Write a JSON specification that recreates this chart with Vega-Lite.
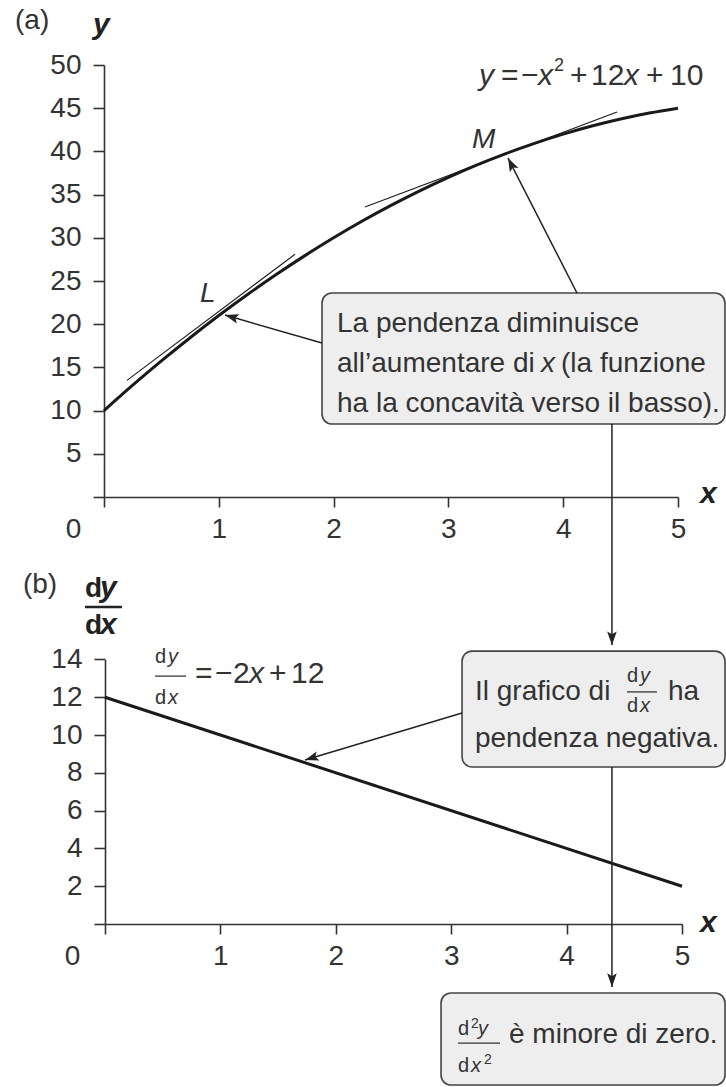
{
  "$schema": "https://vega.github.io/schema/vega-lite/v6.json",
  "width": 726,
  "height": 1087,
  "autosize": {"type": "none"},
  "padding": 0,
  "background": "white",
  "config": {
    "view": {"stroke": null},
    "axis": {
      "grid": false,
      "domainColor": "#333",
      "domainWidth": 1.6,
      "tickColor": "#333",
      "tickWidth": 1.6,
      "labelFont": "Liberation Sans",
      "labelFontSize": 28,
      "labelColor": "#333",
      "labelFlush": false,
      "labelOverlap": false,
      "labelBound": false,
      "format": "d"
    },
    "text": {"font": "Liberation Sans", "color": "#333", "align": "left", "baseline": "alphabetic", "fontSize": 28}
  },
  "datasets": {
    "curve": [
      {"x": 0, "y": 10}, {"x": 0.25, "y": 12.9375}, {"x": 0.5, "y": 15.75}, {"x": 0.75, "y": 18.4375},
      {"x": 1, "y": 21}, {"x": 1.25, "y": 23.4375}, {"x": 1.5, "y": 25.75}, {"x": 1.75, "y": 27.9375},
      {"x": 2, "y": 30}, {"x": 2.25, "y": 31.9375}, {"x": 2.5, "y": 33.75}, {"x": 2.75, "y": 35.4375},
      {"x": 3, "y": 37}, {"x": 3.25, "y": 38.4375}, {"x": 3.5, "y": 39.75}, {"x": 3.75, "y": 40.9375},
      {"x": 4, "y": 42}, {"x": 4.25, "y": 42.9375}, {"x": 4.5, "y": 43.75}, {"x": 4.75, "y": 44.4375},
      {"x": 5, "y": 45}
    ],
    "tangents": [
      {"point": "L", "x0": 0.2, "y0": 13.5, "x1": 1.664, "y1": 28.1},
      {"point": "M", "x0": 2.273, "y0": 33.56, "x1": 4.469, "y1": 44.56}
    ],
    "boxesA": [{"x0": 1.899, "x1": 5.409, "y0": 23.61, "y1": 8.45}],
    "arrowsA": [
      {"name": "L", "x0": 1.899, "y0": 17.82, "x1": 1.054, "y1": 21.06},
      {"name": "M", "x0": 4.12, "y0": 23.61, "x1": 3.519, "y1": 39.24}
    ],
    "derivative": [{"x": 0, "dydx": 12}, {"x": 5, "dydx": 2}],
    "boxesB": [
      {"x0": 3.094, "x1": 5.373, "y0": 14.44, "y1": 8.31},
      {"x0": 2.912, "x1": 5.373, "y0": -3.65, "y1": -8.52}
    ],
    "arrowsB": [
      {"name": "slope", "x0": 3.094, "y0": 11.16, "x1": 1.733, "y1": 8.68},
      {"name": "down1", "x0": 4.393, "y0": 26.46, "x1": 4.393, "y1": 14.76},
      {"name": "down2", "x0": 4.393, "y0": 8.31, "x1": 4.393, "y1": -3.33}
    ],
    "fractionBars": [
      {"x0": 0.433, "x1": 0.702, "y": 13.12},
      {"x0": 4.523, "x1": 4.783, "y": 12.28},
      {"x0": 3.059, "x1": 3.423, "y": -6.3}
    ],
    "titleBar": [{"x0": -0.173, "x1": 0.147, "y": 16.77}]
  },
  "layer": [
    {
      "layer": [
        {
          "data": {"name": "curve"},
          "mark": {"type": "line", "color": "#1a1a1a", "strokeWidth": 3, "interpolate": "monotone"},
          "encoding": {
            "x": {
              "field": "x", "type": "quantitative",
              "scale": {"domain": [0, 5], "range": [104, 678], "nice": false, "zero": false},
              "axis": {
                "orient": "bottom", "offset": -590, "values": [0, 1, 2, 3, 4, 5], "title": null,
                "tickSize": 10, "labelPadding": 8, "format": "d",
                "labelOffset": {"condition": {"test": "datum.value === 0", "value": -31}, "value": 0}
              }
            },
            "y": {
              "field": "y", "type": "quantitative",
              "scale": {"domain": [0, 50], "range": [497, 65], "nice": false, "zero": false},
              "axis": {
                "orient": "left", "offset": -104, "values": [0, 5, 10, 15, 20, 25, 30, 35, 40, 45, 50], "title": null,
                "tickSize": 11, "labelPadding": 12, "format": "d",
                "labelExpr": "datum.value === 0 ? '' : datum.label"
              }
            }
          }
        },
        {
          "data": {"name": "tangents"},
          "mark": {"type": "rule", "color": "#1a1a1a", "strokeWidth": 1.1},
          "encoding": {
            "x": {"field": "x0", "type": "quantitative"},
            "y": {"field": "y0", "type": "quantitative"},
            "x2": {"field": "x1"},
            "y2": {"field": "y1"}
          }
        },
        {
          "data": {"name": "boxesA"},
          "mark": {"type": "rect", "cornerRadius": 10, "fill": "#eeeeee", "stroke": "#444", "strokeWidth": 1.6},
          "encoding": {
            "x": {"field": "x0", "type": "quantitative"},
            "x2": {"field": "x1"},
            "y": {"field": "y0", "type": "quantitative"},
            "y2": {"field": "y1"}
          }
        },
        {
          "data": {"name": "arrowsA"},
          "mark": {"type": "rule", "color": "#222", "strokeWidth": 1.5},
          "encoding": {
            "x": {"field": "x0", "type": "quantitative"},
            "y": {"field": "y0", "type": "quantitative"},
            "x2": {"field": "x1"},
            "y2": {"field": "y1"}
          }
        },
        {
          "data": {"name": "arrowsA"},
          "transform": [{"filter": "datum.name === 'L'"}],
          "mark": {"type": "point", "shape": "M0,0 L0.6,1.7 L0,1.35 L-0.6,1.7 Z", "filled": true, "size": 256, "angle": 286, "color": "#222", "opacity": 1},
          "encoding": {
            "x": {"field": "x1", "type": "quantitative"},
            "y": {"field": "y1", "type": "quantitative"}
          }
        },
        {
          "data": {"name": "arrowsA"},
          "transform": [{"filter": "datum.name === 'M'"}],
          "mark": {"type": "point", "shape": "M0,0 L0.6,1.7 L0,1.35 L-0.6,1.7 Z", "filled": true, "size": 256, "angle": 333, "color": "#222", "opacity": 1},
          "encoding": {
            "x": {"field": "x1", "type": "quantitative"},
            "y": {"field": "y1", "type": "quantitative"}
          }
        },
        {
          "data": {"values": [
            {"t": "(a)", "x": -0.775, "y": 54.17},
            {"t": "La pendenza diminuisce", "x": 2.03, "y": 19.1},
            {"t": "all’aumentare di", "x": 2.03, "y": 14.47},
            {"t": "(la funzione", "x": 3.981, "y": 14.47},
            {"t": "ha la concavità verso il basso).", "x": 2.03, "y": 9.84}
          ]},
          "mark": {"type": "text"},
          "encoding": {
            "x": {"field": "x", "type": "quantitative"},
            "y": {"field": "y", "type": "quantitative"},
            "text": {"field": "t"}
          }
        },
        {
          "data": {"values": [
            {"t": "x", "x": 3.807, "y": 14.47},
            {"t": "L", "x": 0.836, "y": 22.57},
            {"t": "M", "x": 3.206, "y": 40.39}
          ]},
          "mark": {"type": "text", "fontStyle": "italic"},
          "encoding": {
            "x": {"field": "x", "type": "quantitative"},
            "y": {"field": "y", "type": "quantitative"},
            "text": {"field": "t"}
          }
        },
        {
          "data": {"values": [
            {"t": "=", "x": 3.458, "y": 47.69},
            {"t": "−", "x": 3.632, "y": 47.69},
            {"t": "+", "x": 4.059, "y": 47.69},
            {"t": "12", "x": 4.242, "y": 47.69},
            {"t": "+", "x": 4.721, "y": 47.69},
            {"t": "10", "x": 4.93, "y": 47.69}
          ]},
          "mark": {"type": "text", "fontSize": 30},
          "encoding": {
            "x": {"field": "x", "type": "quantitative"},
            "y": {"field": "y", "type": "quantitative"},
            "text": {"field": "t"}
          }
        },
        {
          "data": {"values": [
            {"t": "y", "x": 3.266, "y": 47.69},
            {"t": "x", "x": 3.781, "y": 47.69},
            {"t": "x", "x": 4.529, "y": 47.69}
          ]},
          "mark": {"type": "text", "fontSize": 30, "fontStyle": "italic"},
          "encoding": {
            "x": {"field": "x", "type": "quantitative"},
            "y": {"field": "y", "type": "quantitative"},
            "text": {"field": "t"}
          }
        },
        {
          "data": {"values": [{"t": "2", "x": 3.92, "y": 49.3}]},
          "mark": {"type": "text", "fontSize": 18},
          "encoding": {
            "x": {"field": "x", "type": "quantitative"},
            "y": {"field": "y", "type": "quantitative"},
            "text": {"field": "t"}
          }
        },
        {
          "data": {"values": [
            {"t": "y", "x": -0.096, "y": 53.59},
            {"t": "x", "x": 5.192, "y": -0.694}
          ]},
          "mark": {"type": "text", "fontStyle": "italic", "fontWeight": "bold", "fontSize": 30, "color": "#222"},
          "encoding": {
            "x": {"field": "x", "type": "quantitative"},
            "y": {"field": "y", "type": "quantitative"},
            "text": {"field": "t"}
          }
        }
      ]
    },
    {
      "layer": [
        {
          "data": {"name": "derivative"},
          "mark": {"type": "line", "color": "#1a1a1a", "strokeWidth": 3},
          "encoding": {
            "x": {
              "field": "x", "type": "quantitative",
              "scale": {"domain": [0, 5], "range": [105, 682], "nice": false, "zero": false},
              "axis": {
                "orient": "bottom", "offset": -163, "values": [0, 1, 2, 3, 4, 5], "title": null,
                "tickSize": 10, "labelPadding": 8, "format": "d",
                "labelOffset": {"condition": {"test": "datum.value === 0", "value": -33}, "value": 0}
              }
            },
            "y": {
              "field": "dydx", "type": "quantitative",
              "scale": {"domain": [0, 14], "range": [924, 659.4], "nice": false, "zero": false},
              "axis": {
                "orient": "left", "offset": -105, "values": [0, 2, 4, 6, 8, 10, 12, 14], "title": null,
                "tickSize": 11, "labelPadding": 12, "format": "d",
                "labelExpr": "datum.value === 0 ? '' : datum.label"
              }
            }
          }
        },
        {
          "data": {"name": "boxesB"},
          "mark": {"type": "rect", "cornerRadius": 10, "fill": "#eeeeee", "stroke": "#444", "strokeWidth": 1.6},
          "encoding": {
            "x": {"field": "x0", "type": "quantitative"},
            "x2": {"field": "x1"},
            "y": {"field": "y0", "type": "quantitative"},
            "y2": {"field": "y1"}
          }
        },
        {
          "data": {"name": "arrowsB"},
          "mark": {"type": "rule", "color": "#222", "strokeWidth": 1.5},
          "encoding": {
            "x": {"field": "x0", "type": "quantitative"},
            "y": {"field": "y0", "type": "quantitative"},
            "x2": {"field": "x1"},
            "y2": {"field": "y1"}
          }
        },
        {
          "data": {"name": "arrowsB"},
          "transform": [{"filter": "datum.name === 'slope'"}],
          "mark": {"type": "point", "shape": "M0,0 L0.6,1.7 L0,1.35 L-0.6,1.7 Z", "filled": true, "size": 256, "angle": 253, "color": "#222", "opacity": 1},
          "encoding": {
            "x": {"field": "x1", "type": "quantitative"},
            "y": {"field": "y1", "type": "quantitative"}
          }
        },
        {
          "data": {"name": "arrowsB"},
          "transform": [{"filter": "datum.name !== 'slope'"}],
          "mark": {"type": "point", "shape": "M0,0 L0.6,1.7 L0,1.35 L-0.6,1.7 Z", "filled": true, "size": 256, "angle": 180, "color": "#222", "opacity": 1},
          "encoding": {
            "x": {"field": "x1", "type": "quantitative"},
            "y": {"field": "y1", "type": "quantitative"}
          }
        },
        {
          "data": {"name": "fractionBars"},
          "mark": {"type": "rule", "color": "#333", "strokeWidth": 1.3},
          "encoding": {
            "x": {"field": "x0", "type": "quantitative"},
            "x2": {"field": "x1"},
            "y": {"field": "y", "type": "quantitative"}
          }
        },
        {
          "data": {"name": "titleBar"},
          "mark": {"type": "rule", "color": "#222", "strokeWidth": 2.5},
          "encoding": {
            "x": {"field": "x0", "type": "quantitative"},
            "x2": {"field": "x1"},
            "y": {"field": "y", "type": "quantitative"}
          }
        },
        {
          "data": {"values": [
            {"t": "(b)", "x": -0.711, "y": 17.51},
            {"t": "Il grafico di", "x": 3.206, "y": 11.85},
            {"t": "ha", "x": 4.879, "y": 11.85},
            {"t": "pendenza negativa.", "x": 3.206, "y": 9.37},
            {"t": "è minore di zero.", "x": 3.501, "y": -6.3}
          ]},
          "mark": {"type": "text"},
          "encoding": {
            "x": {"field": "x", "type": "quantitative"},
            "y": {"field": "y", "type": "quantitative"},
            "text": {"field": "t"}
          }
        },
        {
          "data": {"values": [
            {"t": "=", "x": 0.78, "y": 12.75},
            {"t": "−", "x": 0.953, "y": 12.75},
            {"t": "2", "x": 1.109, "y": 12.75},
            {"t": "+", "x": 1.421, "y": 12.75},
            {"t": "12", "x": 1.612, "y": 12.75}
          ]},
          "mark": {"type": "text", "fontSize": 30},
          "encoding": {
            "x": {"field": "x", "type": "quantitative"},
            "y": {"field": "y", "type": "quantitative"},
            "text": {"field": "t"}
          }
        },
        {
          "data": {"values": [{"t": "x", "x": 1.248, "y": 12.75}]},
          "mark": {"type": "text", "fontSize": 30, "fontStyle": "italic"},
          "encoding": {
            "x": {"field": "x", "type": "quantitative"},
            "y": {"field": "y", "type": "quantitative"},
            "text": {"field": "t"}
          }
        },
        {
          "data": {"values": [
            {"t": "d", "x": 0.433, "y": 13.81},
            {"t": "d", "x": 0.433, "y": 11.64},
            {"t": "d", "x": 4.523, "y": 12.8},
            {"t": "d", "x": 4.523, "y": 11.22},
            {"t": "d", "x": 3.059, "y": -5.87},
            {"t": "d", "x": 3.059, "y": -7.83}
          ]},
          "mark": {"type": "text", "fontSize": 20},
          "encoding": {
            "x": {"field": "x", "type": "quantitative"},
            "y": {"field": "y", "type": "quantitative"},
            "text": {"field": "t"}
          }
        },
        {
          "data": {"values": [
            {"t": "y", "x": 0.546, "y": 13.81},
            {"t": "x", "x": 0.546, "y": 11.64},
            {"t": "y", "x": 4.636, "y": 12.8},
            {"t": "x", "x": 4.636, "y": 11.22},
            {"t": "y", "x": 3.232, "y": -5.87},
            {"t": "x", "x": 3.172, "y": -7.83}
          ]},
          "mark": {"type": "text", "fontSize": 20, "fontStyle": "italic"},
          "encoding": {
            "x": {"field": "x", "type": "quantitative"},
            "y": {"field": "y", "type": "quantitative"},
            "text": {"field": "t"}
          }
        },
        {
          "data": {"values": [
            {"t": "2", "x": 3.172, "y": -5.5},
            {"t": "2", "x": 3.284, "y": -7.41}
          ]},
          "mark": {"type": "text", "fontSize": 14},
          "encoding": {
            "x": {"field": "x", "type": "quantitative"},
            "y": {"field": "y", "type": "quantitative"},
            "text": {"field": "t"}
          }
        },
        {
          "data": {"values": [
            {"t": "d", "x": -0.173, "y": 17.3},
            {"t": "d", "x": -0.173, "y": 15.34}
          ]},
          "mark": {"type": "text", "fontWeight": "bold", "color": "#222"},
          "encoding": {
            "x": {"field": "x", "type": "quantitative"},
            "y": {"field": "y", "type": "quantitative"},
            "text": {"field": "t"}
          }
        },
        {
          "data": {"values": [
            {"t": "y", "x": -0.043, "y": 17.3},
            {"t": "x", "x": -0.043, "y": 15.34},
            {"t": "x", "x": 5.156, "y": -0.42}
          ]},
          "mark": {"type": "text", "fontWeight": "bold", "fontStyle": "italic", "fontSize": 30, "color": "#222"},
          "encoding": {
            "x": {"field": "x", "type": "quantitative"},
            "y": {"field": "y", "type": "quantitative"},
            "text": {"field": "t"}
          }
        }
      ]
    }
  ],
  "resolve": {"scale": {"x": "independent", "y": "independent"}}
}
